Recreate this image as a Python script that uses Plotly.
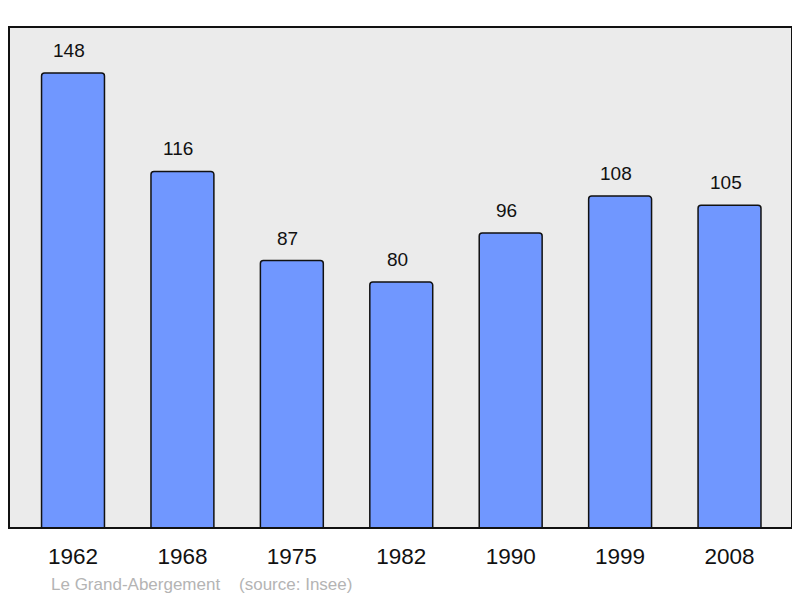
import plotly.graph_objects as go

# population by census year
years = ["1962", "1968", "1975", "1982", "1990", "1999", "2008"]
population = [148, 116, 87, 80, 96, 108, 105]

fig = go.Figure()

fig.add_trace(go.Bar(
    x=years,
    y=population,
    width=0.575,
    marker=dict(color="#7097ff", line=dict(color="#111111", width=1.5)),
    marker_cornerradius=3,
    hoverinfo="x+y",
))

# value labels above the bars (x given as category index)
for i, val in enumerate(population):
    fig.add_annotation(
        x=i, y=val, text=str(val), showarrow=False,
        xref="x", yref="y",
        yanchor="bottom", yshift=10, xshift=-4,
        font=dict(family="Liberation Sans", size=19, color="#111111"),
    )

fig.add_annotation(
    xref="paper", yref="paper", x=0.051, y=-0.112,
    xanchor="left", yanchor="middle", showarrow=False,
    text="Le Grand-Abergement&nbsp;&nbsp;&nbsp;&nbsp;(source: Insee)",
    font=dict(family="Liberation Sans", size=17, color="#b4b4b4"),
)

# frame around the plot area
fig.add_shape(
    type="rect", xref="paper", yref="paper", x0=0, y0=0, x1=1, y1=1,
    line=dict(color="#111111", width=2), layer="above",
)

fig.update_layout(
    width=800, height=598,
    margin=dict(l=1, r=16, t=19, b=78),
    paper_bgcolor="white",
    plot_bgcolor="#ebebeb",
    showlegend=False,
    font=dict(family="Liberation Sans", color="#111111"),
    xaxis=dict(
        type="category",
        range=[-0.585, 6.571], showgrid=False, zeroline=False,
        tickfont=dict(size=22.5), ticks="outside", ticklen=8,
        tickcolor="rgba(0,0,0,0)",
    ),
    yaxis=dict(
        range=[0, 163], showgrid=False, zeroline=False,
        showticklabels=False,
    ),
)

fig.write_html("out.html")
